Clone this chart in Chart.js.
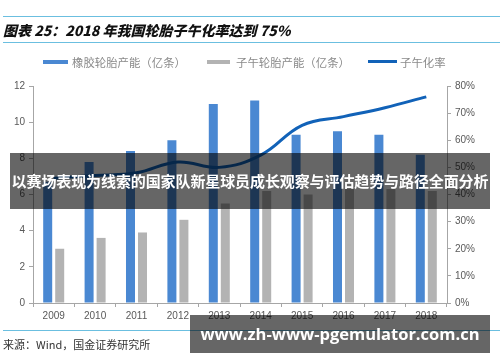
<!DOCTYPE html>
<html>
<head>
<meta charset="utf-8">
<script src="https://cdn.jsdelivr.net/npm/chart.js@4/dist/chart.umd.min.js"></script>
<style>
  html, body { margin: 0; padding: 0; background: #fff; }
  #wrap { position: relative; width: 500px; height: 362px; overflow: hidden; background: #fff; font-family: "Noto Sans CJK SC", "Noto Sans", sans-serif; }
  #c { position: absolute; left: 0; top: 0; }
  .hl { position: absolute; left: 3px; right: 0; height: 1px; background: #6bbfe0; }
  #title { position: absolute; left: 3px; top: 21px; font-size: 14px; font-weight: 900; font-style: italic; color: #111; white-space: nowrap; line-height: 18px; }
  .lg { position: absolute; top: 54px; font-size: 11.4px; color: #8a8a8a; white-space: nowrap; line-height: 16px; }
  .sw { position: absolute; }
  #src { position: absolute; left: 3px; top: 336px; font-size: 11px; color: #333; white-space: nowrap; line-height: 16px; }
  #band { position: absolute; left: 10px; top: 153px; width: 480px; height: 56px; background: rgba(0,0,0,0.6); color: #fff; font-weight: bold; font-size: 15px; line-height: 56px; text-align: center; white-space: nowrap; letter-spacing: -0.1px; }
  #wm { position: absolute; left: 190px; top: 315px; width: 300px; height: 38px; background: rgba(0,0,0,0.6); color: #fff; font-family: "Open Sans", "Noto Sans", sans-serif; font-weight: bold; font-size: 16.5px; line-height: 38px; text-align: center; white-space: nowrap; }
</style>
</head>
<body>
<div id="wrap">
  <canvas id="c" width="500" height="362"></canvas>
  <div class="hl" style="top:16px"></div>
  <div id="title">图表 25：2018 年我国轮胎子午化率达到 75%</div>
  <div class="hl" style="top:42px"></div>
  <div class="sw" style="left:43px;top:60px;width:25px;height:4px;background:#4a88d2"></div>
  <div class="lg" style="left:72px">橡胶轮胎产能（亿条）</div>
  <div class="sw" style="left:207px;top:60px;width:23px;height:4px;background:#b3b3b3"></div>
  <div class="lg" style="left:236px">子午轮胎产能（亿条）</div>
  <div class="sw" style="left:368px;top:60px;width:29px;height:3px;background:#1162b8"></div>
  <div class="lg" style="left:400px">子午化率</div>
  <div class="hl" style="top:330px"></div>
  <div id="src">来源：Wind，国金证券研究所</div>
  <div id="band">以赛场表现为线索的国家队新星球员成长观察与评估趋势与路径全面分析</div>
  <div id="wm">www.zh-www-pgemulator.com.cn</div>
</div>
<script>
const years = ['2009','2010','2011','2012','2013','2014','2015','2016','2017','2018'];
const rubberTireCapacity = [6.7, 7.8, 8.4, 9.0, 11.0, 11.2, 9.3, 9.5, 9.3, 8.2];
const radialTireCapacity = [3.0, 3.6, 3.9, 4.6, 5.5, 6.2, 6.0, 6.3, 6.3, 6.2];
const radialRate = [46, 47, 48, 52, 50, 54.5, 65.5, 68.7, 72, 76];
const leftTicks = [0, 2, 4, 6, 8, 10, 12];
const rightTicks = [0, 10, 20, 30, 40, 50, 60, 70, 80];

const axisColor = '#a6a6a6';
const tickFont = { family: "'Liberation Sans', Arial, sans-serif", size: 10 };

new Chart(document.getElementById('c'), {
  data: {
    labels: years,
    datasets: [
      { type: 'bar', label: '橡胶轮胎产能（亿条）', data: rubberTireCapacity, backgroundColor: '#4a88d2', yAxisID: 'y', order: 1, categoryPercentage: 0.58, barPercentage: 0.75 },
      { type: 'bar', label: '子午轮胎产能（亿条）', data: radialTireCapacity, backgroundColor: '#b3b3b3', yAxisID: 'y', order: 1, categoryPercentage: 0.58, barPercentage: 0.75 },
      { type: 'line', label: '子午化率', data: radialRate, borderColor: '#1162b8', borderWidth: 3, pointRadius: 0, tension: 0.4, yAxisID: 'y1', order: 0 }
    ]
  },
  options: {
    responsive: false,
    animation: false,
    layout: { padding: { top: 86, left: 0, right: 0, bottom: 0 } },
    plugins: { legend: { display: false }, tooltip: { enabled: false } },
    scales: {
      x: {
        offset: true,
        grid: { display: true, drawOnChartArea: false, offset: true, tickLength: 4, color: axisColor },
        border: { color: axisColor },
        ticks: { font: tickFont, color: '#595959', padding: 3, maxRotation: 0 },
        afterFit: s => { s.height = 59; }
      },
      y: {
        position: 'left', min: 0, max: 12,
        afterBuildTicks: s => { s.ticks = leftTicks.map(v => ({ value: v })); },
        grid: { display: true, drawOnChartArea: false, tickLength: 4, color: axisColor },
        border: { color: axisColor },
        ticks: { font: tickFont, color: '#595959', padding: 4 },
        afterFit: s => { s.width = 33; }
      },
      y1: {
        position: 'right', min: 0, max: 80,
        afterBuildTicks: s => { s.ticks = rightTicks.map(v => ({ value: v })); },
        grid: { display: true, drawOnChartArea: false, tickLength: 4, color: axisColor },
        border: { color: axisColor },
        ticks: { font: tickFont, color: '#595959', padding: 4, callback: v => v + '%' },
        afterFit: s => { s.width = 53; }
      }
    }
  }
});
</script>
</body>
</html>
